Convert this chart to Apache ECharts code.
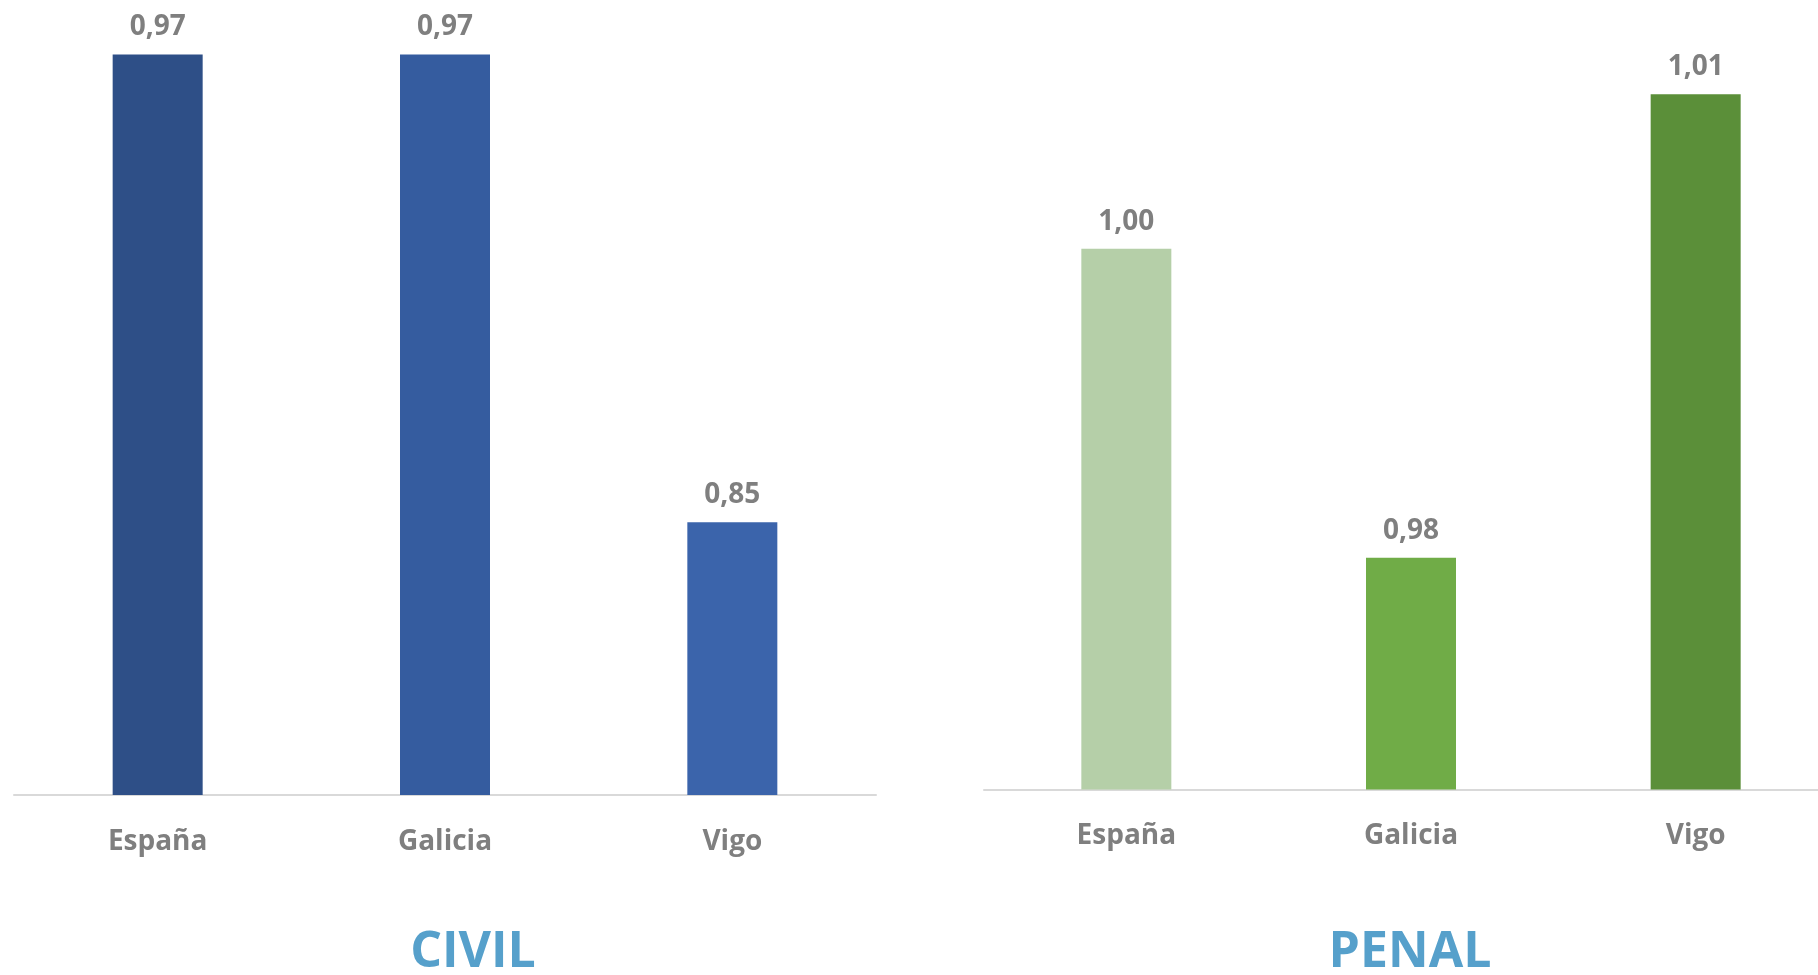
<!DOCTYPE html>
<html>
<head>
<meta charset="utf-8">
<title>Civil / Penal</title>
<script src="https://cdn.jsdelivr.net/npm/echarts@6/dist/echarts.min.js"></script>
<style>
  html, body { margin: 0; padding: 0; background: #fff; overflow: hidden; }
  /* un poco más ancho que la ventana: el eje de PENAL sigue más allá del borde derecho */
  #chart { width: 1840px; height: 975px; }
</style>
</head>
<body>
<div id="chart"></div>
<script>
// datos
const categories = ["España", "Galicia", "Vigo"];
const civilValues = [0.97, 0.97, 0.85];
const penalValues = [1.00, 0.98, 1.01];
const civilColors = ["#2e4f87", "#355c9f", "#3b64ab"];
const penalColors = ["#b5cfa8", "#70ac47", "#5b8f39"];

const labelGray = "#7f7f7f";
const font = "'Open Sans', 'Liberation Sans', sans-serif";

function fmt(v) {
  return v.toFixed(2).replace(".", ",");
}

function barSeries(idx, values, colors) {
  return {
    type: "bar",
    xAxisIndex: idx,
    yAxisIndex: idx,
    barWidth: 90,
    data: values.map((v, i) => ({ value: v, itemStyle: { color: colors[i] } })),
    label: {
      show: true,
      position: "top",
      distance: 13,
      color: labelGray,
      fontFamily: font,
      fontWeight: "bold",
      fontSize: 28,
      formatter: (p) => fmt(p.value),
    },
    animation: false,
  };
}

function catAxis(idx) {
  return {
    type: "category",
    gridIndex: idx,
    data: categories,
    axisTick: { show: false },
    axisLine: { lineStyle: { color: "#d9d9d9", width: 2 } },
    axisLabel: {
      margin: 33,
      color: labelGray,
      fontFamily: font,
      fontWeight: "bold",
      fontSize: 28,
    },
  };
}

const chart = echarts.init(document.getElementById("chart"));
chart.setOption({
  backgroundColor: "#fff",
  grid: [
    { left: 14, width: 862, top: 35, bottom: 180 },
    { left: 984, width: 854, top: 17, bottom: 185.5 },
  ],
  xAxis: [catAxis(0), catAxis(1)],
  yAxis: [
    { type: "value", gridIndex: 0, min: 0.78, max: 0.975, show: false, splitLine: { show: false } },
    { type: "value", gridIndex: 1, min: 0.965, max: 1.015, show: false, splitLine: { show: false } },
  ],
  series: [
    barSeries(0, civilValues, civilColors),
    barSeries(1, penalValues, penalColors),
  ],
  graphic: [
    {
      type: "text", x: 473, y: 953,
      style: { text: "CIVIL", fill: "#56a0cb", font: "bold 50px " + font, align: "center", verticalAlign: "middle" },
    },
    {
      type: "text", x: 1410, y: 953,
      style: { text: "PENAL", fill: "#56a0cb", font: "bold 50px " + font, align: "center", verticalAlign: "middle" },
    },
  ],
});
</script>
</body>
</html>
